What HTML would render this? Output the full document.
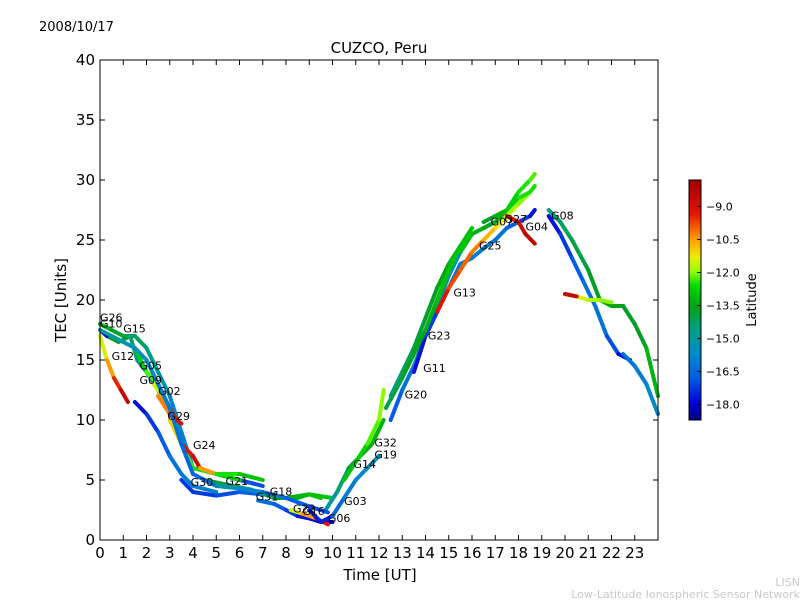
<!DOCTYPE html>
<html><head><meta charset="utf-8"><style>
body{margin:0;background:#fff;}
svg text{font-family:"DejaVu Sans","Liberation Sans",sans-serif;}
</style></head><body>
<svg id="chart" width="800" height="600" viewBox="0 0 800 600" xmlns="http://www.w3.org/2000/svg">
<rect width="800" height="600" fill="#fff"/>
<text x="39" y="31" font-size="13">2008/10/17</text>
<text x="379" y="53" font-size="15" text-anchor="middle">CUZCO, Peru</text>
<g id="plot"></g>
<rect x="100" y="60" width="558" height="480" fill="none" stroke="#000" stroke-width="1"/>
<g id="axes"></g>
<text x="380" y="580" font-size="15" text-anchor="middle">Time [UT]</text>
<text x="66" y="300" font-size="15" text-anchor="middle" transform="rotate(-90 66 300)">TEC [Units]</text>
<defs><linearGradient id="jet" x1="0" y1="1" x2="0" y2="0"></linearGradient></defs>
<rect x="689" y="180" width="12" height="240" fill="url(#jet)" stroke="#000" stroke-width="1"/>
<g id="cbticks"></g>
<text x="756" y="300" font-size="13" text-anchor="middle" transform="rotate(-90 756 300)">Latitude</text>
<text x="800" y="586" font-size="11" fill="#c8c8c8" text-anchor="end">LISN</text>
<text x="800" y="598" font-size="11" fill="#c8c8c8" text-anchor="end">Low-Latitude Ionospheric Sensor Network</text>
</svg>
<script>
const xTicks=[0,1,2,3,4,5,6,7,8,9,10,11,12,13,14,15,16,17,18,19,20,21,22,23];
const yTicks=[0,5,10,15,20,25,30,35,40];
const cbTicks=[-9.0,-10.5,-12.0,-13.5,-15.0,-16.5,-18.0];
const trackNames=["G26","G12","G15","G05","G09","G02","G29","G24","G30","G21","G31","G18","G22","G06","G03","G32","G20","G11","G23","G25","G07","G04","G08","G27","G14","G19","G13","G10","G16","G01","G28","G17"];
const trackHours=[
[0,0.5,1,1.5,2,2.5,3,3.5,4,5,6,7],
[0,0.3,0.6,0.9,1.2],
[0.3,0.8,1.3,1.6,2,2.5,3,3.5],
[1.5,2,2.5,3,3.5,4,5,6],
[1.5,2,2.5,3,3.5,4,5],
[2.3,2.7,3.0,3.3],
[2.5,3,3.5],
[3,3.5,4,4.3,5,6,7],
[3.5,4,5,6,7],
[4.5,5.5,6.5,7.5,8.5,9,9.5],
[6.8,7.5,8,8.5,9,9.5,10],
[7.2,8,9,10],
[8.2,8.7,9.3,9.8],
[9,9.5,10,10.5,11,11.5,12],
[9.7,10.2,10.7,11.2,11.7,12.2],
[10.5,11,11.5,12,12.2],
[12.5,13,13.5,14,14.5,15,15.5,16,16.5,17],
[12.5,13,13.5,14,14.5,15,15.5,16],
[13.5,14,14.5,15,15.5,16,16.5,17,17.5,18,18.5,18.7],
[14.5,15,15.5,16,16.5,17,17.5,18,18.5],
[15.5,16,16.5,17,17.5,18,18.5,18.7],
[17.5,18,18.3,18.7],
[19.3,19.8,20.3,21,21.5,22,22.5,23,23.5,24],
[19.3,19.8,20.3,20.8,21.3,21.8,22.3,22.8],
[20,20.5,21,21.5,22],
[22.5,23,23.5,24],
[20,20.5],
[0,0.3],
[0,0.5,1,1.5,2,2.5,3,3.5,4,5],
[5,6,7,8,9,9.8],
[12.3,13,13.5,14,14.5,15,15.5,16],
[16.5,17,17.5,18,18.5,18.7]
];
const trackTec=[
[18,17.5,17,17,16,14,12,9,6,5.5,5,4.5],
[17,15,13.5,12.5,11.5],
[17,16.5,17,15,14,12.5,10.5,8],
[16,14,13,11,8,6,5.5,5],
[11.5,10.5,9,7,5.5,4.5,4],
[13,12,11,10],
[12,10.5,9.7],
[10,8,7,6,5.5,5.5,5],
[5,4,3.7,4,3.8],
[5,4.6,4.2,3.5,3.5,3.8,3.5],
[3.3,3,2.5,2,1.8,1.5,1.5],
[3.8,3.5,3.8,3.5],
[2.5,2.2,1.8,1.3],
[2.5,1.5,2,3.5,5,6,7],
[2.5,4,6,7,8,10],
[5,6.5,8,10,12.5],
[10,12.5,14.5,17,19.5,22,24,25.5,26,26.5],
[12,14,16,18.5,21,23,24.5,25.5],
[14,17,19,21,23,23.5,24.3,25,26,26.5,27,27.5],
[19,21,22.5,24,25,26,27,28,29],
[24,25.5,26,26.5,27.5,29,30,30.5],
[27,26.5,25.5,24.7],
[27.5,26.5,25,22.5,20,19.5,19.5,18,16,12],
[27,25.5,23.5,21.5,19.5,17,15.5,15],
[20.5,20.3,20,20,19.8],
[15.5,14.5,13,10.5],
[20.5,20.3],
[17.5,17],
[17.5,17,16.5,16,15,13,11,8,5.5,4.5],
[4.5,4.3,4,3.5,2.8,2.3],
[11,13.5,15.5,17.5,20,22.5,24.5,26],
[26.5,27,27.5,28.5,29,29.5]
];
const trackLat=[
[-13,-13.5,-14,-14,-14.5,-15,-15.5,-16,-16,-16.5,-17,-17],
[-12,-11,-10,-9,-8],
[-13.5,-14,-14,-15,-15,-15.5,-16,-16],
[-13,-12.5,-12,-12,-12,-12.5,-12.5,-13],
[-18,-17.5,-17,-16.5,-16,-16,-16],
[-12,-11,-10,-9],
[-11,-9.5,-8.5],
[-12,-10,-8.5,-9,-12,-13,-13],
[-17,-17.5,-17,-17,-16.5],
[-14,-14,-14.5,-14.5,-13,-13,-13],
[-16,-16.5,-17,-17.5,-18,-18,-18],
[-13.5,-13.5,-13,-13],
[-12,-11,-10,-8.5],
[-17,-18,-17,-16,-16,-15.5,-15],
[-15,-15,-14,-13.5,-13.5,-13],
[-13,-13,-12.5,-12,-12],
[-17,-16.5,-16,-15.5,-15,-15,-15.5,-16,-16,-16.5],
[-15,-14.5,-14,-14,-13.5,-13.5,-13,-13],
[-18,-17.5,-17,-16.5,-16,-16,-16,-16,-16.5,-17,-17.5,-18],
[-9,-9.5,-10,-10,-10.5,-11,-11.5,-12,-12],
[-13,-13,-13.5,-13.5,-13,-12.5,-12.5,-12],
[-9,-9,-8.5,-8.5],
[-14.5,-14.5,-14,-14,-13.5,-13.5,-13.5,-14,-13.5,-13],
[-18,-17.5,-17,-16.5,-16,-16.5,-17.5,-18],
[-11,-11.5,-11.5,-12,-12],
[-16.5,-16,-16,-15.5],
[-8.5,-8.5],
[-18,-18],
[-15,-15,-15,-15.5,-15.5,-16,-16,-16.5,-16.5,-16.5],
[-15,-15.5,-16,-16.5,-17,-17],
[-14,-14,-13.5,-13.5,-13,-13,-13,-13],
[-14,-13.5,-13,-12.5,-12.5,-12.5]
];
const labelPos=[[0,18.2],[0.5,15],[1.0,17.3],[1.7,14.2],[1.7,13],[2.5,12.1],[2.9,10],[4.0,7.6],[3.9,4.5],[5.4,4.6],[6.7,3.3],[7.3,3.7],[8.3,2.3],[9.8,1.5],[10.5,2.9],[11.8,7.8],[13.1,11.8],[13.9,14],[14.1,16.7],[16.3,24.2],[16.8,26.2],[18.3,25.8],[19.4,26.7],[17.4,26.4],[10.9,6],[11.8,6.8],[15.2,20.3],[0,17.7],[8.7,2.1],[0,0],[0,0],[0,0]];
const labelShow=[1,1,1,1,1,1,1,1,1,1,1,1,1,1,1,1,1,1,1,1,1,1,1,1,1,1,1,1,1,0,0,0];
const X=h=>100+h*558/24, Y=v=>540-v*12;
const LMIN=-18.7, LMAX=-7.8;
const CY=l=>420-(l-LMIN)/(LMAX-LMIN)*240;
const cmapStops=[[0,[0,0,128]],[0.07,[0,0,215]],[0.17,[0,90,230]],[0.28,[0,140,200]],[0.38,[0,160,130]],[0.47,[0,160,20]],[0.56,[0,220,0]],[0.62,[150,255,0]],[0.68,[240,235,0]],[0.75,[255,160,0]],[0.86,[230,20,0]],[1,[160,0,0]]];
function cmap(t){t=Math.max(0,Math.min(1,t));
 for(let i=0;i<cmapStops.length-1;i++){const a=cmapStops[i],b=cmapStops[i+1];
  if(t<=b[0]){const f=(t-a[0])/(b[0]-a[0]);const c=a[1].map((v,k)=>Math.round(v+(b[1][k]-v)*f));return `rgb(${c})`;}}
 return 'rgb(160,0,0)';}
const NS="http://www.w3.org/2000/svg";
function mk(tag,attrs,parent){const e=document.createElementNS(NS,tag);for(const k in attrs)e.setAttribute(k,attrs[k]);parent.appendChild(e);return e;}
const grad=document.getElementById('jet');
cmapStops.forEach(s=>mk('stop',{offset:s[0],'stop-color':`rgb(${s[1]})`},grad));
const plot=document.getElementById('plot'),axes=document.getElementById('axes'),cb=document.getElementById('cbticks');
for(let i=0;i<trackHours.length;i++){
 const g=mk('g',{},plot);
 
 
 const hs=trackHours[i],ts=trackTec[i],ls=trackLat[i];
 for(let j=0;j<hs.length-1;j++){
  const l=mk('line',{x1:X(hs[j]),y1:Y(ts[j]),x2:X(hs[j+1]),y2:Y(ts[j+1]),stroke:cmap(((ls[j]+ls[j+1])/2-LMIN)/(LMAX-LMIN)),'stroke-width':4,'stroke-linecap':'round'},g);
  
  
 }
}
for(let i=0;i<labelPos.length;i++){
 if(!labelShow[i])continue;
 const t=mk('text',{x:X(labelPos[i][0]),y:Y(labelPos[i][1]),'font-size':11},plot);
 t.textContent=trackNames[i];
 
 
}
xTicks.forEach(v=>{
 mk('line',{x1:X(v),y1:540,x2:X(v),y2:535,stroke:'#000'},axes);
 mk('line',{x1:X(v),y1:60,x2:X(v),y2:65,stroke:'#000'},axes);
 const t=mk('text',{x:X(v),y:558,'font-size':15,'text-anchor':'middle'},axes);
 t.textContent=v;
 
 
});
yTicks.forEach(v=>{
 mk('line',{x1:100,y1:Y(v),x2:105,y2:Y(v),stroke:'#000'},axes);
 mk('line',{x1:658,y1:Y(v),x2:653,y2:Y(v),stroke:'#000'},axes);
 const t=mk('text',{x:95,y:Y(v)+5,'font-size':15,'text-anchor':'end'},axes);
 t.textContent=v;
 
 
});
cbTicks.forEach(v=>{
 mk('line',{x1:697,y1:CY(v),x2:701,y2:CY(v),stroke:'#000'},cb);
 const t=mk('text',{x:706,y:CY(v)+4,'font-size':11},cb);
 t.textContent='\u2212'+Math.abs(v).toFixed(1);
 
 
});
</script>
</body></html>
